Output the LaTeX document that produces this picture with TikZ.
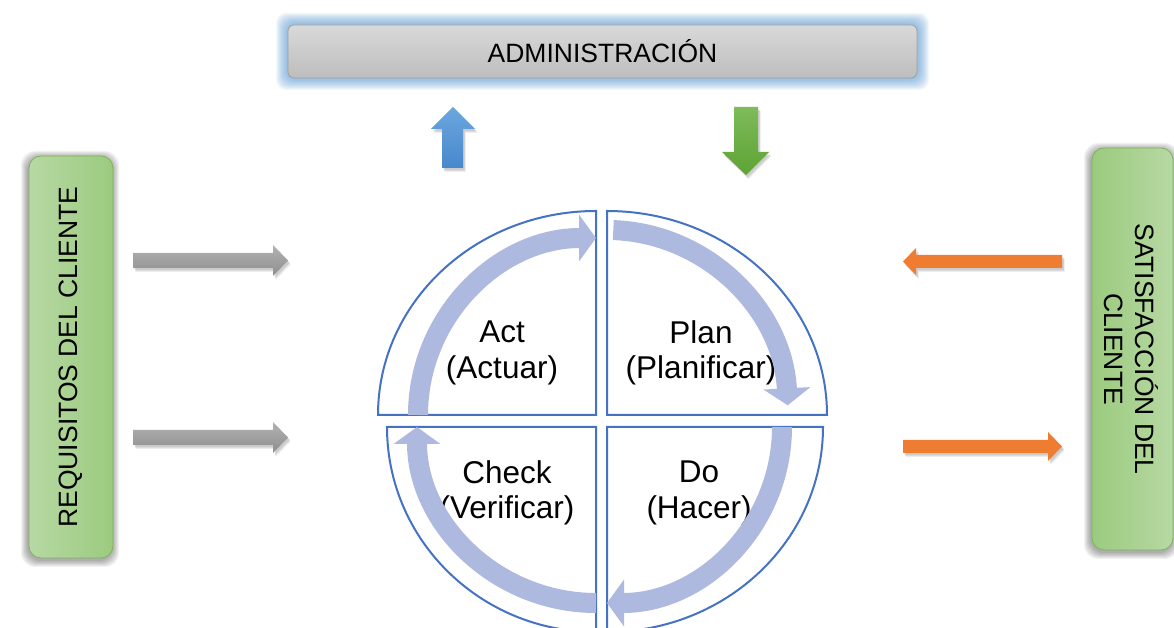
\documentclass[tikz,border=0pt]{standalone}
\usepackage{graphicx}
\usepackage{fontspec}
\setmainfont{Liberation Sans}
\usetikzlibrary{arrows.meta}
\definecolor{qblue}{HTML}{4472C4}
\definecolor{bandc}{HTML}{ADB9DE}
\definecolor{glowb}{HTML}{5B9BD5}
\definecolor{gtop}{HTML}{D9D9D9}
\definecolor{gbot}{HTML}{BDBDBD}
\definecolor{glight}{HTML}{B7D8A3}
\definecolor{gdark}{HTML}{9BCB7F}
\definecolor{gborder}{HTML}{7DB35A}
\definecolor{bluetop}{HTML}{6CA7DE}
\definecolor{bluebot}{HTML}{4787CC}
\definecolor{greentop}{HTML}{7EBB5C}
\definecolor{greenbot}{HTML}{5DA332}
\definecolor{graytop}{HTML}{B2B2B2}
\definecolor{graybot}{HTML}{8E8E8E}
\definecolor{orangec}{HTML}{EE7D31}
\tikzset{
  quad/.style={draw=qblue, line width=2pt, fill=white},
  bandarrow/.style={draw=bandc, line width=20pt, -{Triangle[width=46pt,length=17pt]}},
  label/.style={align=center, font=\fontsize{31.5}{35.5}\selectfont, inner sep=0pt},
  sidetext/.style={align=center, font=\fontsize{26.5}{31}\selectfont, inner sep=0pt},
  sidebox/.style={draw=gborder, line width=0.8pt, rounded corners=12pt, minimum width=84pt, inner sep=0pt},
  shad/.style={fill=black, opacity=0.05},
}
\begin{document}
\begin{tikzpicture}[x=1pt,y=1pt]
\useasboundingbox (0,0) rectangle (1174,628);
\clip (0,0) rectangle (1174,628);
\fill[white] (0,0) rectangle (1174,628);

% --- top box with blue glow
\foreach \i in {1,...,12} {
  \fill[glowb, opacity=0.075, rounded corners=10pt] (288-\i,550-\i) rectangle (917+\i,603+\i);
}
\node[draw=gray!75, line width=0.8pt, rounded corners=6pt, top color=gtop, bottom color=gbot,
      minimum width=629pt, minimum height=53pt, inner sep=0pt,
      font=\fontsize{26.5}{30}\selectfont] (admin) at (602.5,576.5) {ADMINISTRACIÓN};

% --- left box
\foreach \i in {1,...,7} {
  \fill[shad, rounded corners=14pt] (29-\i-1,70-\i-2) rectangle (113+\i-1,472+\i-2);
}
\node[sidebox, minimum height=402pt, left color=glight, right color=gdark] (req) at (71,271) {};
\node[sidetext, rotate=90] (reqtext) at (req.center) {REQUISITOS DEL CLIENTE};

% --- right box
\foreach \i in {1,...,7} {
  \fill[shad, rounded corners=14pt] (1092-\i-1,78-\i-2) rectangle (1173+\i-1,480+\i-2);
}
\node[sidebox, minimum width=81pt, minimum height=402pt, left color=gdark, right color=glight] (sat) at (1132.5,279) {};
\node[sidetext, rotate=-90] (sattext) at (1131,279) {SATISFACCIÓN DEL\\CLIENTE};

% --- block arrows: shadows
\foreach \i in {1,2,3} {
  \fill[black, opacity=0.07, shift={(1+\i*0.5,-1-\i)}] (133,360) -- (273,360) -- (273,352) -- (288,367.5) -- (273,383) -- (273,375) -- (133,375) -- cycle;
  \fill[black, opacity=0.07, shift={(1+\i*0.5,-1-\i)}] (133,183) -- (273,183) -- (273,175) -- (288,190.5) -- (273,206) -- (273,198) -- (133,198) -- cycle;
  \fill[black, opacity=0.07, shift={(1+\i*0.5,-1-\i)}] (1062,360) -- (916,360) -- (916,353) -- (903,366.5) -- (916,380) -- (916,373) -- (1062,373) -- cycle;
  \fill[black, opacity=0.07, shift={(1+\i*0.5,-1-\i)}] (903,175) -- (1048,175) -- (1048,167) -- (1062,181.5) -- (1048,196) -- (1048,188) -- (903,188) -- cycle;
  \fill[black, opacity=0.07, shift={(1+\i*0.5,-1-\i)}] (442,460) -- (442,499) -- (431,499) -- (453,521) -- (475,499) -- (463,499) -- (463,460) -- cycle;
  \fill[black, opacity=0.07, shift={(1+\i*0.5,-1-\i)}] (734,521) -- (734,476) -- (722,476) -- (746,453) -- (769,476) -- (758,476) -- (758,521) -- cycle;
}
% gray arrows (from client requirements)
\shade[top color=graytop, bottom color=graybot] (133,360) -- (273,360) -- (273,352) -- (288,367.5) -- (273,383) -- (273,375) -- (133,375) -- cycle;
\shade[top color=graytop, bottom color=graybot] (133,183) -- (273,183) -- (273,175) -- (288,190.5) -- (273,206) -- (273,198) -- (133,198) -- cycle;
% orange arrows
\fill[orangec] (1062,360) -- (916,360) -- (916,353) -- (903,366.5) -- (916,380) -- (916,373) -- (1062,373) -- cycle;
\fill[orangec] (903,175) -- (1048,175) -- (1048,167) -- (1062,181.5) -- (1048,196) -- (1048,188) -- (903,188) -- cycle;
% blue up / green down
\shade[top color=bluetop, bottom color=bluebot] (442,460) -- (442,499) -- (431,499) -- (453,521) -- (475,499) -- (463,499) -- (463,460) -- cycle;
\shade[top color=greentop, bottom color=greenbot] (734,521) -- (734,476) -- (722,476) -- (746,453) -- (769,476) -- (758,476) -- (758,521) -- cycle;

% --- PDCA quadrants
\draw[quad] (596,213) -- (378,213) arc[start angle=180, end angle=90, x radius=218, y radius=204] -- cycle;
\draw[quad] (607,213) -- (827,213) arc[start angle=0, end angle=90, x radius=220, y radius=204] -- cycle;
\draw[quad] (596,201) -- (387,201) arc[start angle=180, end angle=270, x radius=209, y radius=205] -- cycle;
\draw[quad] (607,201) -- (823,201) arc[start angle=0, end angle=-90, x radius=216, y radius=205] -- cycle;

\node[label] (act) at (502,275) {Act\\(Actuar)};
\node[label] (plan) at (701,275) {Plan\\(Planificar)};
\node[label] (check) at (507,135) {Check\\(Verificar)};
\node[label] (do) at (699,135) {Do\\(Hacer)};

% --- cycle arrows
\draw[bandarrow] (418,213) arc[start angle=180, end angle=90, x radius=178, y radius=177];
\draw[bandarrow] (613.3,397.9) arc[start angle=88, end angle=3, x radius=181, y radius=185];
\draw[bandarrow] (782,201) arc[start angle=0, end angle=-90, x radius=175, y radius=176];
\draw[bandarrow] (596,25) arc[start angle=-90, end angle=-180, x radius=179, y radius=176];
\end{tikzpicture}
\end{document}
